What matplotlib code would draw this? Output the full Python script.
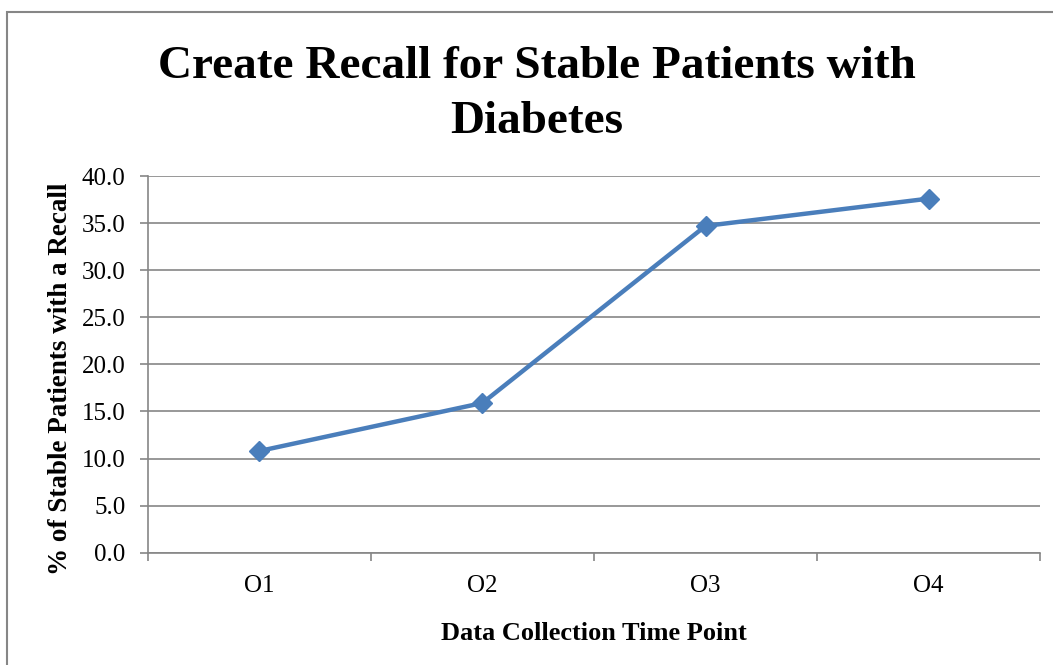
import numpy as np
import matplotlib.pyplot as plt
from matplotlib.patches import Rectangle
from matplotlib.ticker import FixedLocator

categories = ["O1", "O2", "O3", "O4"]
recall_pct = [10.8, 15.9, 34.7, 37.6]
y_ticks = [0.0, 5.0, 10.0, 15.0, 20.0, 25.0, 30.0, 35.0, 40.0]

plt.rcParams['font.family'] = ['Liberation Serif', 'DejaVu Serif']

fig = plt.figure(figsize=(10.53, 6.65), dpi=100)
ax = fig.add_axes([0.1405, 0.1689, 0.8472, 0.5664])

# chart frame
fig.patches.append(Rectangle((7 / 1053, -0.05), 1.2, 1 - 12 / 665 + 0.05,
                             transform=fig.transFigure, fill=False,
                             edgecolor="#868686", linewidth=1.5))

x = np.arange(len(categories))
ax.plot(x, recall_pct, color="#4A7EBB", linewidth=3.2, marker="D",
        markersize=10, zorder=3)

ax.set_xlim(-0.5, len(categories) - 0.5)
ax.set_ylim(0, 40)
ax.set_yticks(y_ticks)
ax.set_yticklabels([f"{v:.1f}" for v in y_ticks], fontsize=18)
ax.yaxis.grid(True, color="#868686", linewidth=1.2)
ax.set_axisbelow(True)

# category boundaries get the tick marks, labels sit at centres
ax.xaxis.set_major_locator(FixedLocator(np.arange(-0.5, len(categories), 1.0)))
ax.set_xticklabels([])
ax.xaxis.set_minor_locator(FixedLocator(x))
ax.set_xticklabels(categories, minor=True, fontsize=18)
ax.tick_params(axis="x", which="minor", length=0, pad=16)
ax.tick_params(axis="x", which="major", length=6, width=1.2, color="#868686")
ax.tick_params(axis="y", length=6, width=1.2, color="#868686", pad=10)

for side in ["top", "right"]:
    ax.spines[side].set_visible(False)
for side in ["left", "bottom"]:
    ax.spines[side].set_color("#868686")
    ax.spines[side].set_linewidth(1.2)

ax.set_xlabel("Data Collection Time Point", fontsize=19, fontweight="bold",
              labelpad=18)
ax.set_ylabel("% of Stable Patients with a Recall", fontsize=19.5,
              fontweight="bold")
ax.yaxis.set_label_coords(-0.084, 0.461)

fig.text(0.510, 0.858, "Create Recall for Stable Patients with\nDiabetes",
         ha="center", va="center", fontsize=34, fontweight="bold",
         linespacing=1.42)

fig.savefig("out.png", dpi=100)
